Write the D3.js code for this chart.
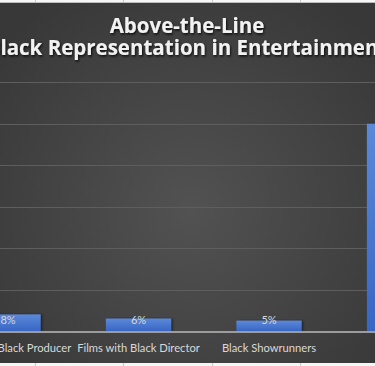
<!DOCTYPE html>
<html>
<head>
<meta charset="utf-8">
<script src="https://cdnjs.cloudflare.com/ajax/libs/d3/7.8.5/d3.min.js"></script>
<style>
  html, body { margin: 0; padding: 0; background: #ffffff; }
  svg { display: block; }
</style>
</head>
<body>
<div id="chart"></div>
<script>
// chart data (the last bar is cut off at the right edge, its name is not visible)
const categories = ["Films with Black Producer", "Films with Black Director", "Black Showrunners", ""];
const values = [8, 6, 5, 100];
const valueLabels = ["8%", "6%", "5%", ""];
const gridTicks = [20, 40, 60, 80, 100, 120];
const titleLines = ["Above-the-Line", "Black Representation in Entertainment"];

const width = 375;
const height = 366;

const svg = d3.select("#chart")
  .append("svg")
  .attr("width", width)
  .attr("height", height);

const defs = svg.append("defs");

// background of the chart, a bit lighter in the middle
const bg = defs.append("radialGradient")
  .attr("id", "bg")
  .attr("gradientUnits", "userSpaceOnUse")
  .attr("cx", 190).attr("cy", 210).attr("r", 250);
bg.append("stop").attr("offset", "0%").attr("stop-color", "#525252");
bg.append("stop").attr("offset", "100%").attr("stop-color", "#383838");

const barGrad = defs.append("linearGradient")
  .attr("id", "barGrad")
  .attr("x1", 0).attr("y1", 0).attr("x2", 0).attr("y2", 1);
barGrad.append("stop").attr("offset", "0%").attr("stop-color", "#5b89da");
barGrad.append("stop").attr("offset", "100%").attr("stop-color", "#3866c4");

const shadow = defs.append("filter").attr("id", "shadow")
  .attr("x", "-10%").attr("y", "-30%").attr("width", "130%").attr("height", "170%");
shadow.append("feDropShadow")
  .attr("dx", 1).attr("dy", 1.5).attr("stdDeviation", 1)
  .attr("flood-color", "#000").attr("flood-opacity", 0.8);

const barShadow = defs.append("filter").attr("id", "barShadow")
  .attr("x", "-10%").attr("y", "-10%").attr("width", "130%").attr("height", "120%");
barShadow.append("feDropShadow")
  .attr("dx", 1.5).attr("dy", 0).attr("stdDeviation", 0.8)
  .attr("flood-color", "#000").attr("flood-opacity", 0.5);

// spreadsheet strips above and below the chart
svg.append("rect")
  .attr("x", 0).attr("y", 0)
  .attr("width", width).attr("height", height)
  .attr("fill", "#f6f6f6");

[35, 123, 212, 300].forEach(x => {
  svg.append("line")
    .attr("x1", x + 0.5).attr("x2", x + 0.5)
    .attr("y1", 0).attr("y2", height)
    .attr("stroke", "#c8c8c8");
});

svg.append("line")
  .attr("x1", 0).attr("x2", width)
  .attr("y1", 2.5).attr("y2", 2.5)
  .attr("stroke", "#bdbdbd");

// chart area
svg.append("rect")
  .attr("x", 0).attr("y", 3)
  .attr("width", width).attr("height", 360)
  .attr("fill", "url(#bg)");

// scales
const x = d3.scaleBand()
  .domain(categories)
  .range([-57.25, 464.75])
  .paddingInner(0.5)
  .paddingOuter(0.25);

const y = d3.scaleLinear()
  .domain([0, 120])
  .range([331, 82.3]);

// gridlines
svg.append("g")
  .selectAll("line")
  .data(gridTicks)
  .join("line")
  .attr("x1", 0)
  .attr("x2", width)
  .attr("y1", d => Math.round(y(d)) + 0.5)
  .attr("y2", d => Math.round(y(d)) + 0.5)
  .attr("stroke", "#5e5e5e")
  .attr("stroke-width", 1);

// bars
svg.append("g")
  .selectAll("rect")
  .data(values)
  .join("rect")
  .attr("x", (d, i) => x(categories[i]))
  .attr("y", d => y(d))
  .attr("width", x.bandwidth())
  .attr("height", d => y(0) - y(d))
  .attr("fill", "url(#barGrad)")
  .attr("filter", "url(#barShadow)");

// axis line
svg.append("line")
  .attr("x1", 0).attr("x2", width)
  .attr("y1", y(0) + 1).attr("y2", y(0) + 1)
  .attr("stroke", "#9c9c9c")
  .attr("stroke-width", 2);

// value labels
svg.append("g")
  .selectAll("text")
  .data(valueLabels)
  .join("text")
  .attr("x", (d, i) => x(categories[i]) + x.bandwidth() / 2)
  .attr("y", y(0) - 7.5)
  .attr("text-anchor", "middle")
  .attr("font-family", "Lato, sans-serif")
  .attr("font-size", 11)
  .attr("fill", "#d9d9d9")
  .text(d => d);

// category labels
svg.append("g")
  .selectAll("text")
  .data(categories)
  .join("text")
  .attr("x", d => x(d) + x.bandwidth() / 2)
  .attr("y", 351.5)
  .attr("text-anchor", "middle")
  .attr("font-family", "Lato, sans-serif")
  .attr("font-size", 11.2)
  .attr("fill", "#d9d9d9")
  .text(d => d);

// title
svg.append("g")
  .selectAll("text")
  .data(titleLines)
  .join("text")
  .attr("x", 187)
  .attr("y", (d, i) => 33 + i * 22)
  .attr("text-anchor", "middle")
  .attr("font-family", "'Open Sans', sans-serif")
  .attr("font-weight", "bold")
  .attr("font-size", 20.5)
  .attr("fill", "#f2f2f2")
  .attr("filter", "url(#shadow)")
  .text(d => d);
</script>
</body>
</html>
